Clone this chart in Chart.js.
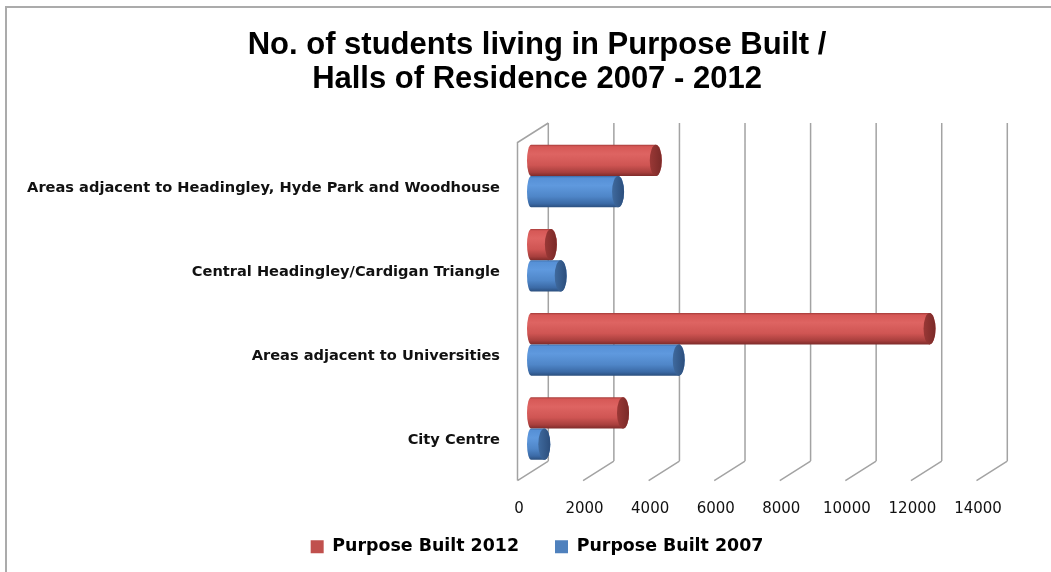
<!DOCTYPE html>
<html>
<head>
<meta charset="utf-8">
<script src="https://cdn.jsdelivr.net/npm/chart.js@4.4.0/dist/chart.umd.min.js"></script>
<style>
  html, body { margin: 0; padding: 0; background: #fff; overflow: hidden; }
  #wrap { position: relative; width: 1051px; height: 572px; overflow: hidden; }
  #frame { position: absolute; left: 5px; top: 6px; width: 1100px; height: 600px;
           border-top: 2px solid #ababab; border-left: 2px solid #ababab; }
  #wrap canvas { position: absolute; left: 0; top: 0; }
</style>
</head>
<body>
<div id="wrap">
  <div id="frame"></div>
  <canvas id="hallsChart" width="1051" height="572"></canvas>
</div>
<script>
// areas, top to bottom
const categories = [
    'Areas adjacent to Headingley, Hyde Park and Woodhouse',
    'Central Headingley/Cardigan Triangle',
    'Areas adjacent to Universities',
    'City Centre'
];
const built2012 = [3800, 600, 12150, 2800];
const built2007 = [2650, 900, 4500, 400];
const seriesNames = ['Purpose Built 2012', 'Purpose Built 2007'];
const xMax = 14000;
const xStep = 2000;

// 3d box offsets (front floor edge -> back wall)
const DEPTH_DX = 30.8;
const DEPTH_DY = -19.5;
const FRONT_DX = -1.5;
// bars sit part way into the box
const BAR_DX = 12.2;
const BAR_DY = -12;
const CAP_RX = 6;

const shades = [
    { stops: [[0, '#a63c3a'], [0.06, '#d65856'], [0.3, '#de6462'], [0.65, '#cf5553'], [0.88, '#a83f3d'], [1, '#7e2b2a']],
      cap: ['#9a3836', '#7a2a28'] },
    { stops: [[0, '#3b6ca8'], [0.06, '#5690d6'], [0.3, '#5f99de'], [0.65, '#4f86c8'], [0.88, '#3b6aa6'], [1, '#2b4f7e']],
      cap: ['#3f6a9e', '#2c4e7c'] }
];

const box3d = {
    id: 'box3d',
    afterLayout(chart) {
        // axis labels overhang their boxes; open up the clip areas
        chart.scales.y.left = 0;
        chart.scales.x.bottom = chart.height;
    },
    beforeDatasetsDraw(chart) {
        const ctx = chart.ctx;
        const xs = chart.scales.x;
        const area = chart.chartArea;
        const floorY = area.bottom - 2;
        const wallTop = area.top - 3.5;
        const backTop = wallTop + DEPTH_DY;
        const backBottom = floorY + DEPTH_DY;

        ctx.save();
        ctx.strokeStyle = '#a3a3a3';
        ctx.lineWidth = 1.5;
        ctx.beginPath();
        for (let v = 0; v <= xMax; v += xStep) {
            const fx = xs.getPixelForValue(v) + FRONT_DX;
            const bx = fx + DEPTH_DX;
            ctx.moveTo(fx, floorY);
            ctx.lineTo(bx, backBottom);
            ctx.moveTo(bx, backBottom);
            ctx.lineTo(bx, backTop);
        }
        // left side wall
        const fx0 = xs.getPixelForValue(0) + FRONT_DX;
        ctx.moveTo(fx0, floorY);
        ctx.lineTo(fx0, wallTop);
        ctx.lineTo(fx0 + DEPTH_DX, backTop);
        ctx.stroke();
        ctx.restore();
    },
    beforeDatasetDraw() {
        // flat rectangles are replaced by the cylinders below
        return false;
    },
    afterDatasetsDraw(chart) {
        const ctx = chart.ctx;
        chart.data.datasets.forEach((ds, di) => {
            const meta = chart.getDatasetMeta(di);
            if (meta.hidden) return;
            const shade = shades[di];
            meta.data.forEach(bar => {
                const h = bar.height;
                const cy = bar.y + BAR_DY;
                const top = cy - h / 2;
                const bottom = cy + h / 2;
                const x0 = bar.base + BAR_DX;
                const x1 = bar.x + BAR_DX;
                const ry = h / 2;

                const grad = ctx.createLinearGradient(0, top, 0, bottom);
                shade.stops.forEach(s => grad.addColorStop(s[0], s[1]));

                ctx.save();
                ctx.beginPath();
                ctx.moveTo(x0, top);
                ctx.lineTo(x1, top);
                ctx.ellipse(x1, cy, CAP_RX, ry, 0, -Math.PI / 2, Math.PI / 2);
                ctx.lineTo(x0, bottom);
                ctx.ellipse(x0, cy, CAP_RX * 0.7, ry, 0, Math.PI / 2, Math.PI * 1.5);
                ctx.closePath();
                ctx.fillStyle = grad;
                ctx.fill();

                const capGrad = ctx.createLinearGradient(x1 - CAP_RX, 0, x1 + CAP_RX, 0);
                capGrad.addColorStop(0, shade.cap[0]);
                capGrad.addColorStop(1, shade.cap[1]);
                ctx.beginPath();
                ctx.ellipse(x1, cy, CAP_RX, ry, 0, 0, Math.PI * 2);
                ctx.fillStyle = capGrad;
                ctx.fill();
                ctx.restore();
            });
        });
    }
};

const ctx = document.getElementById('hallsChart').getContext('2d');
const myChart = new Chart(ctx, {
    type: 'bar',
    data: {
        labels: categories,
        datasets: [
            { label: seriesNames[0], data: built2012, backgroundColor: '#c0504d', borderWidth: 0 },
            { label: seriesNames[1], data: built2007, backgroundColor: '#4f81bd', borderWidth: 0 }
        ]
    },
    options: {
        indexAxis: 'y',
        responsive: false,
        animation: false,
        events: [],
        layout: { padding: { left: 96, right: 73, top: 0, bottom: 6.5 } },
        datasets: { bar: { categoryPercentage: 0.743, barPercentage: 1.0 } },
        scales: {
            x: {
                min: 0,
                max: xMax,
                ticks: { stepSize: xStep, padding: 18, color: '#111',
                         callback: v => String(v),
                         font: { family: 'DejaVu Sans', size: 15 } },
                grid: { display: false, drawTicks: false },
                border: { display: false },
                afterFit(scale) { scale.height = 19.5; }
            },
            y: {
                ticks: { padding: 19, color: '#111',
                         font: { family: 'DejaVu Sans', size: 14.6, weight: 'bold' } },
                grid: { display: false, drawTicks: false },
                border: { display: false },
                afterFit(scale) { scale.width = 423; }
            }
        },
        plugins: {
            title: {
                display: true,
                text: ['No. of students living in Purpose Built /', 'Halls of Residence 2007 - 2012'],
                color: '#000',
                font: { family: 'Liberation Sans', size: 31, weight: 'bold', lineHeight: 1.1 },
                padding: { top: 28, bottom: 49.8 }
            },
            legend: {
                position: 'bottom',
                labels: {
                    boxWidth: 13,
                    boxHeight: 13,
                    padding: 36,
                    color: '#000',
                    font: { family: 'DejaVu Sans', size: 17.4, weight: 'bold' }
                }
            },
            tooltip: { enabled: false }
        }
    },
    plugins: [box3d]
});
</script>
</body>
</html>
